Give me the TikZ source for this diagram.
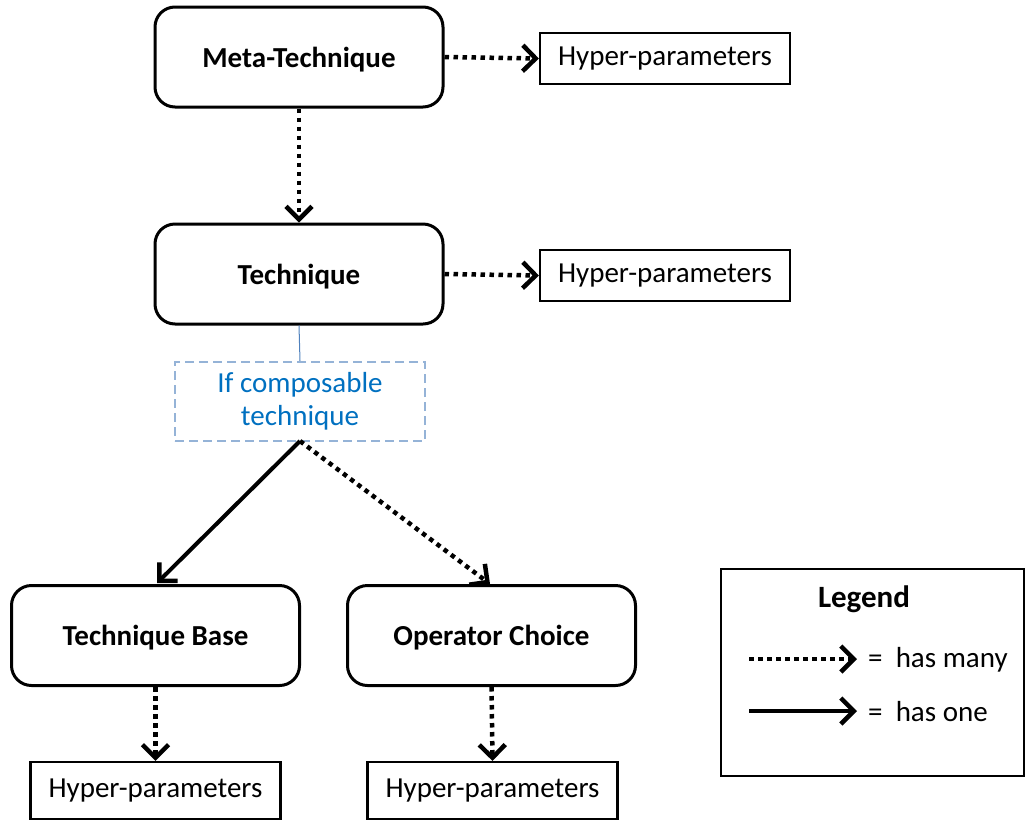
\documentclass[tikz,border=0pt]{standalone}
\usepackage{fontspec}
\setmainfont{Carlito}
\usetikzlibrary{arrows.meta}
\definecolor{bluetxt}{HTML}{0070C0}
\definecolor{blueline}{HTML}{95B3D7}
\definecolor{bluethin}{HTML}{4F81BD}
\begin{document}
\begin{tikzpicture}[x=1pt,y=-1pt,
  rbox/.style={draw,line width=3pt,rounded corners=20pt,minimum width=288pt,minimum height=100pt,font=\fontsize{29}{34}\selectfont\bfseries,inner sep=0pt,text depth=0pt},
  hbox/.style={draw,line width=2.2pt,minimum width=250pt,minimum height=51pt,font=\fontsize{29}{34}\selectfont,inner sep=0pt},
  many/.style={line width=4.5pt,dash pattern=on 4.5pt off 4.5pt,-{Straight Barb[length=13pt,width=26pt,line width=4.5pt]}},
  one/.style={line width=4pt,-{Straight Barb[length=13pt,width=26pt,line width=4.5pt]}},
  lbl/.style={font=\fontsize{29}{34}\selectfont,inner sep=0pt}
]
\useasboundingbox (0,0) rectangle (1026,820);
\node[rbox] (meta) at (299,57) {Meta-Technique};
\node[hbox] (h1) at (665,58.5) {Hyper-parameters};
\node[rbox] (tech) at (299,274) {Technique};
\node[hbox] (h2) at (665,275.5) {Hyper-parameters};
\node[draw=blueline,line width=2.2pt,dash pattern=on 9pt off 5pt,minimum width=250pt,minimum height=79pt,align=center,text=bluetxt,font=\fontsize{29}{33}\selectfont,inner sep=0pt] (comp) at (300,401.5) {If composable\\technique};
\node[rbox] (base) at (155.5,635.5) {Technique Base};
\node[rbox] (op) at (491.5,635.5) {Operator Choice};
\node[hbox,minimum height=57pt] (h3) at (155.5,790.5) {Hyper-parameters};
\node[hbox,minimum height=57pt] (h4) at (492.5,790.5) {Hyper-parameters};
\node[draw,line width=2.5pt,minimum width=303pt,minimum height=207pt,inner sep=0pt] (leg) at (872.5,672.5) {};
\node[lbl,font=\fontsize{31}{36}\selectfont\bfseries] (legt) at (864,599) {Legend};
\coordinate (m1) at (749,659);
\coordinate (m2) at (857,659);
\coordinate (o1) at (749,711);
\coordinate (o2) at (857,711);
\node[lbl,anchor=west] (lm) at (868,660) {=\ \ has many};
\node[lbl,anchor=west] (lo) at (868,712) {=\ \ has one};
\draw[many] (m1) -- (m2);
\draw[one] (o1) -- (o2);

\draw[many] (meta.east) -- (h1.west);
\draw[many] (tech.east) -- (h2.west);
\draw[many] (meta.south) -- (tech.north);
\draw[bluethin,line width=1pt] (tech.south) -- (comp.north);
\coordinate (cs) at (300,441);
\draw[one] (cs) -- (157,583);
\draw[many] (cs) -- (490,584);
\draw[many] (base.south) -- (h3.north);
\draw[many] (op.south) -- (h4.north);
\end{tikzpicture}
\end{document}
